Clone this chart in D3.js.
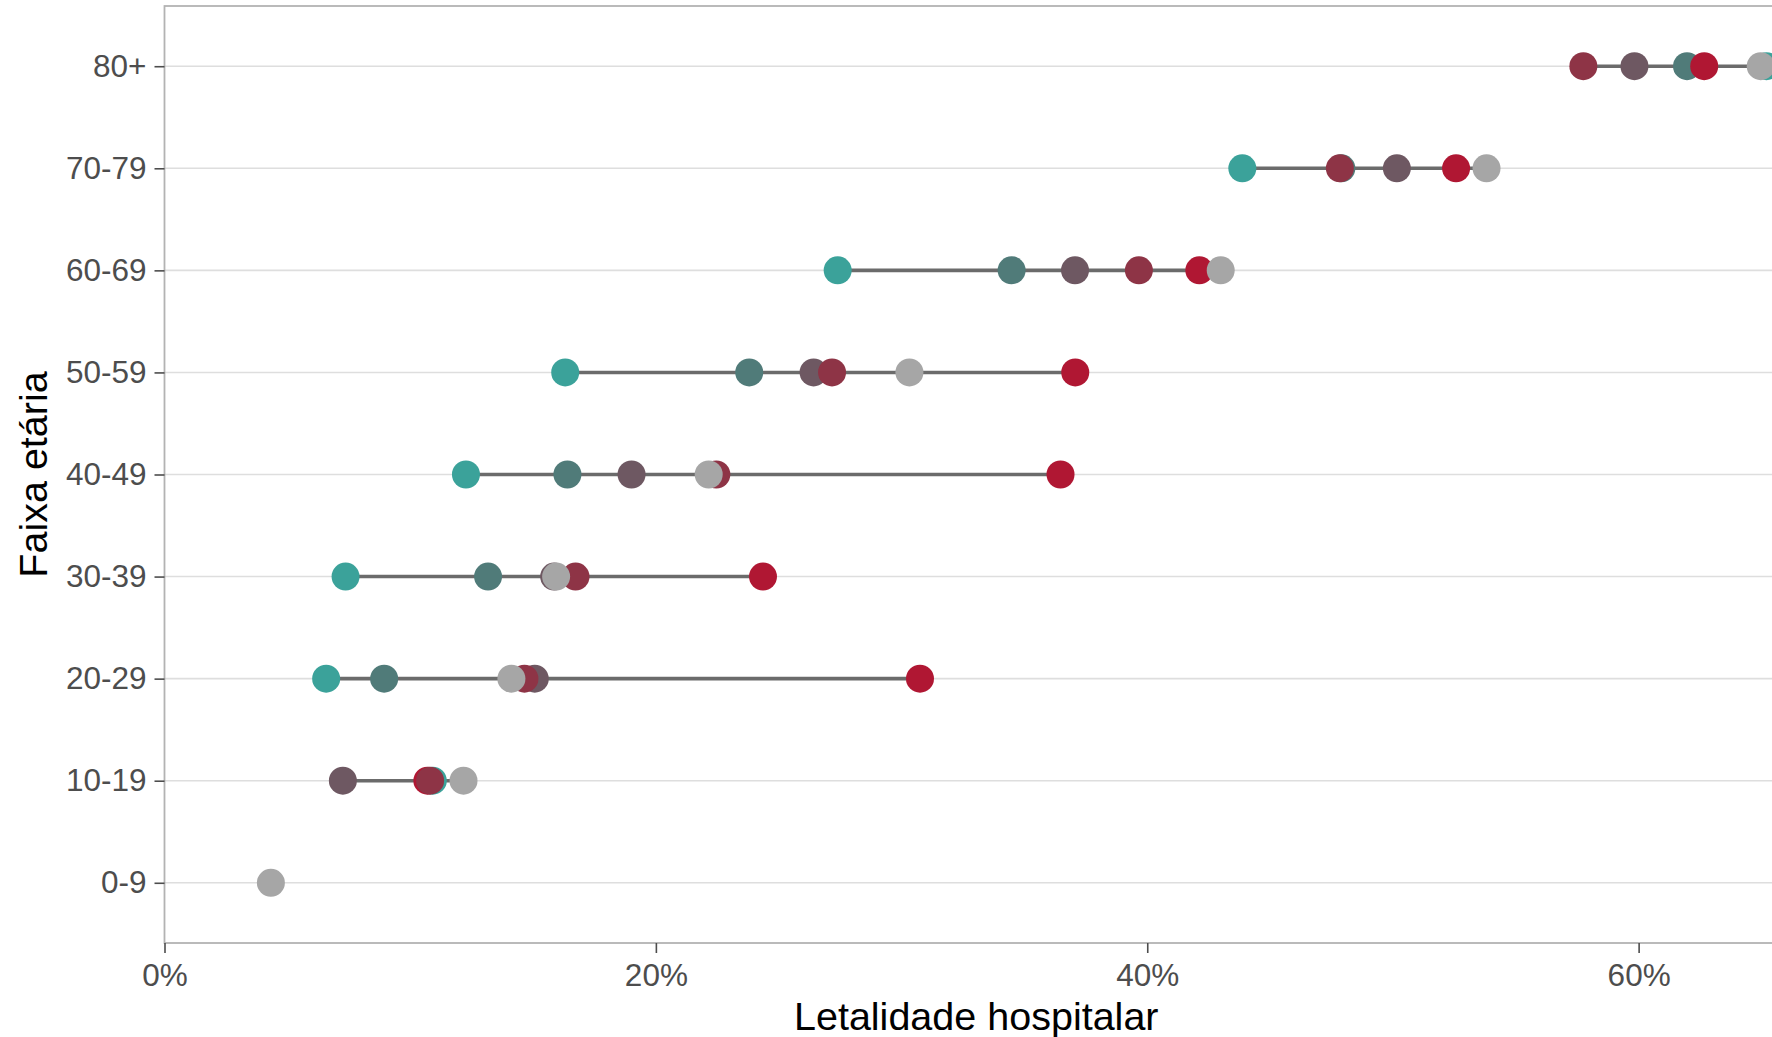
<!DOCTYPE html>
<html>
<head>
<meta charset="utf-8">
<script src="https://cdn.jsdelivr.net/npm/d3@7"></script>
<style>
  html, body { margin: 0; padding: 0; background: #ffffff; overflow: hidden; }
  svg { display: block; font-family: "Liberation Sans", Arial, Helvetica, sans-serif; }
</style>
</head>
<body>
<svg id="chart" width="1772" height="1037"></svg>
<script>
// ---- Data (values in %) ----
const categories = ["0-9", "10-19", "20-29", "30-39", "40-49", "50-59", "60-69", "70-79", "80+"];
const seriesNames = ["Série 1", "Série 2", "Série 3", "Série 4", "Série 5", "Série 6"];
const seriesColors = ["#3ba29a", "#507b79", "#6e5862", "#b01733", "#8e3446", "#a6a6a6"];
const serie1 = [null, 10.92, 6.58, 7.37, 12.27, 16.31, 27.40, 43.87, 65.20];
const serie2 = [null, null, 8.94, 13.17, 16.40, 23.80, 34.48, 47.90, 61.97];
const serie3 = [null, 7.26, 15.07, 15.86, 19.01, 26.42, 37.06, 50.16, 59.83];
const serie4 = [null, 10.70, 30.75, 24.36, 36.47, 37.07, 42.12, 52.57, 62.67];
const serie5 = [null, 10.81, 14.65, 16.73, 22.46, 27.17, 39.66, 47.84, 57.75];
const serie6 = [4.33, 12.17, 14.12, 15.94, 22.15, 30.32, 42.99, 53.81, 64.97];
const seriesValues = [serie1, serie2, serie3, serie4, serie5, serie6];
const xTicks = [0, 20, 40, 60];
const xTitle = "Letalidade hospitalar";
const yTitle = "Faixa etária";

// ---- Layout ----
const svg = d3.select("#chart");
const panel = { left: 164.5, right: 1788, top: 6, bottom: 943 };

const x = d3.scaleLinear().domain([0, 66.08]).range([panel.left, panel.right]);
const y = d3.scalePoint().domain(categories).range([panel.bottom, panel.top]).padding(0.59);

svg.append("clipPath").attr("id", "clip")
  .append("rect").attr("x", panel.left).attr("y", panel.top)
  .attr("width", panel.right - panel.left).attr("height", panel.bottom - panel.top);

// Gridlines (horizontal, major)
svg.append("g").selectAll("line").data(categories).join("line")
  .attr("x1", panel.left).attr("x2", panel.right)
  .attr("y1", d => y(d)).attr("y2", d => y(d))
  .attr("stroke", "#dedede").attr("stroke-width", 1.6);

// Panel border
svg.append("rect")
  .attr("x", panel.left).attr("y", panel.top)
  .attr("width", panel.right - panel.left).attr("height", panel.bottom - panel.top)
  .attr("fill", "none").attr("stroke", "#b3b3b3").attr("stroke-width", 1.8);

const plot = svg.append("g").attr("clip-path", "url(#clip)");

// Range segments
const ranges = categories.map((c, i) => {
  const vals = seriesValues.map(s => s[i]).filter(v => v != null);
  return { cat: c, min: d3.min(vals), max: d3.max(vals) };
});
plot.append("g").selectAll("line").data(ranges).join("line")
  .attr("x1", d => x(d.min)).attr("x2", d => x(d.max))
  .attr("y1", d => y(d.cat)).attr("y2", d => y(d.cat))
  .attr("stroke", "#6b6b6b").attr("stroke-width", 3.6);

// Points
seriesValues.forEach((s, si) => {
  const pts = categories.map((c, i) => ({ cat: c, v: s[i] })).filter(d => d.v != null);
  plot.append("g").selectAll("circle").data(pts).join("circle")
    .attr("cx", d => x(d.v)).attr("cy", d => y(d.cat))
    .attr("r", 14).attr("fill", seriesColors[si]);
});

// Axes
const xAxis = d3.axisBottom(x).tickValues(xTicks).tickFormat(d => d + "%").tickSize(10).tickPadding(11);
const gx = svg.append("g").attr("transform", `translate(0,${panel.bottom})`).call(xAxis);
gx.select(".domain").remove();
gx.selectAll(".tick line").attr("stroke", "#4d4d4d").attr("stroke-width", 1.6);
gx.selectAll(".tick text").attr("fill", "#4d4d4d").attr("font-size", 31.5)
  .attr("font-family", "'Liberation Sans', Arial, sans-serif");

const yAxis = d3.axisLeft(y).tickSize(10).tickPadding(8);
const gy = svg.append("g").attr("transform", `translate(${panel.left},0)`).call(yAxis);
gy.select(".domain").remove();
gy.selectAll(".tick line").attr("stroke", "#4d4d4d").attr("stroke-width", 1.6);
gy.selectAll(".tick text").attr("fill", "#4d4d4d").attr("font-size", 31.5)
  .attr("font-family", "'Liberation Sans', Arial, sans-serif");

// Titles
svg.append("text")
  .attr("x", (panel.left + panel.right) / 2).attr("y", 1030)
  .attr("text-anchor", "middle").attr("font-size", 39.5).attr("fill", "#000")
  .text(xTitle);
svg.append("text")
  .attr("transform", `translate(47,${(panel.top + panel.bottom) / 2}) rotate(-90)`)
  .attr("text-anchor", "middle").attr("font-size", 39.5).attr("fill", "#000")
  .text(yTitle);
</script>
</body>
</html>
